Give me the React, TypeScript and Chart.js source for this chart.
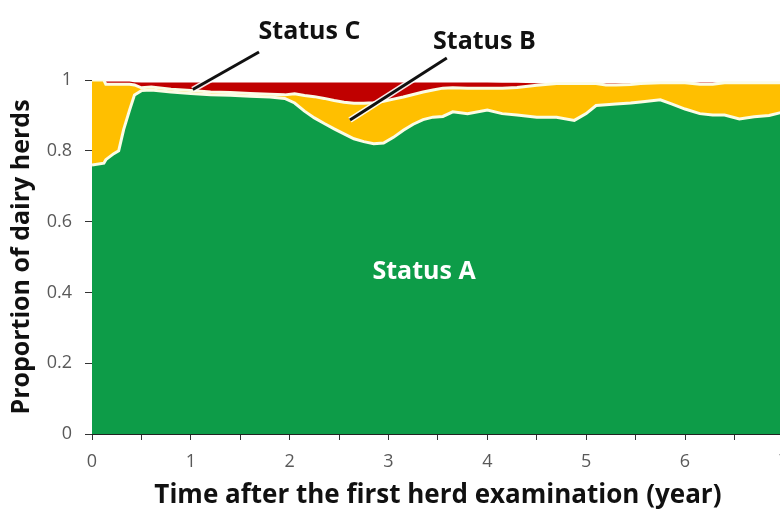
import { useEffect, useRef } from "react";
import { Chart, registerables } from "chart.js";

Chart.register(...registerables);

const FONT = "'Open Sans', 'Noto Sans', Lato, sans-serif";

// Time after first herd examination (year)
const times = [0, 0.12, 0.14, 0.22, 0.27, 0.32, 0.38, 0.43, 0.5, 0.6, 0.8, 1.0, 1.2, 1.4, 1.6, 1.8, 1.95,
  2.05, 2.15, 2.25, 2.35, 2.45, 2.55, 2.65, 2.75, 2.85, 2.95, 3.05, 3.15, 3.25, 3.35, 3.45, 3.55, 3.65,
  3.8, 4.0, 4.15, 4.3, 4.5, 4.7, 4.88, 5.0, 5.1, 5.2, 5.3, 5.45, 5.55, 5.75, 5.87, 6.0, 6.15, 6.28, 6.4,
  6.55, 6.7, 6.85, 7.0];

// Proportion of herds in each status
const statusA = [0.76, 0.765, 0.775, 0.792, 0.8, 0.86, 0.915, 0.958, 0.97, 0.972, 0.966, 0.962, 0.958, 0.957, 0.954, 0.952, 0.948,
  0.935, 0.912, 0.893, 0.877, 0.862, 0.848, 0.834, 0.826, 0.82, 0.822, 0.838, 0.858, 0.875, 0.888, 0.895, 0.897, 0.91,
  0.905, 0.915, 0.905, 0.901, 0.895, 0.895, 0.886, 0.905, 0.928, 0.93, 0.932, 0.935, 0.938, 0.944, 0.932, 0.918, 0.905, 0.901, 0.901,
  0.89, 0.896, 0.9, 0.91];

const statusB = [0.24, 0.235, 0.213, 0.196, 0.188, 0.128, 0.073, 0.028, 0.008, 0.008, 0.008, 0.008, 0.008, 0.008, 0.008, 0.008, 0.01,
  0.026, 0.044, 0.06, 0.071, 0.08, 0.089, 0.1, 0.108, 0.116, 0.118, 0.108, 0.094, 0.084, 0.078, 0.077, 0.08, 0.068,
  0.072, 0.062, 0.072, 0.078, 0.09, 0.095, 0.104, 0.085, 0.062, 0.056, 0.054, 0.052, 0.052, 0.048, 0.06, 0.074, 0.083, 0.087, 0.091,
  0.102, 0.096, 0.092, 0.082];

const statusC = [0, 0, 0.01, 0.01, 0.01, 0.01, 0.01, 0.01, 0.017, 0.015, 0.021, 0.025, 0.029, 0.03, 0.033, 0.035, 0.037,
  0.034, 0.039, 0.042, 0.047, 0.053, 0.058, 0.061, 0.061, 0.059, 0.055, 0.049, 0.043, 0.036, 0.029, 0.023, 0.018, 0.017,
  0.018, 0.018, 0.017, 0.015, 0.008, 0, 0, 0, 0, 0.007, 0.007, 0.005, 0, 0, 0, 0, 0.007, 0.007, 0,
  0, 0, 0, 0];

const seriesNames = ["Status A", "Status B", "Status C"];
const xTickLabels = ["0", "1", "2", "3", "4", "5", "6", "7"];
const yTickLabels = ["0", "0.2", "0.4", "0.6", "0.8", "1"];
const xTitle = "Time after the first herd examination (year)";
const yTitle = "Proportion of dairy herds";

// annotation anchors in data coordinates [year, proportion]
const annotations = {
  A: { text: [3.36, 0.458] },
  B: { text: [3.97, 1.107], from: [3.59, 1.062], to: [2.61, 0.887] },
  C: { text: [2.2, 1.136], from: [1.69, 1.079], to: [1.02, 0.973] },
};

const toPoints = (vals: number[]) => vals.map((v, i) => ({ x: times[i], y: v }));

const statusPlugin = {
  id: "statusLabels",
  afterDraw(chart: any) {
    const { ctx, scales } = chart;
    const xs = scales.x, ys = scales.y;
    const px = (p: number[]) => [xs.getPixelForValue(p[0]), ys.getPixelForValue(p[1])];
    ctx.save();
    for (const key of ["B", "C"] as const) {
      const a: any = (annotations as any)[key];
      const f = px(a.from), t = px(a.to);
      ctx.beginPath();
      ctx.moveTo(f[0], f[1]);
      ctx.lineTo(t[0], t[1]);
      ctx.strokeStyle = "rgba(255,255,255,0.9)";
      ctx.lineWidth = 6;
      ctx.stroke();
      ctx.beginPath();
      ctx.moveTo(f[0], f[1]);
      ctx.lineTo(t[0], t[1]);
      ctx.strokeStyle = "#111";
      ctx.lineWidth = 3;
      ctx.stroke();
    }
    ctx.font = `bold 25px ${FONT}`;
    ctx.textAlign = "center";
    ctx.textBaseline = "middle";
    const la = px(annotations.A.text);
    ctx.fillStyle = "#ffffff";
    ctx.fillText(seriesNames[0], la[0], la[1]);
    ctx.fillStyle = "#111";
    const lb = px(annotations.B.text);
    ctx.fillText(seriesNames[1], lb[0], lb[1]);
    const lc = px(annotations.C.text);
    ctx.fillText(seriesNames[2], lc[0], lc[1]);
    ctx.restore();
  },
};

export default function App() {
  const ref = useRef<HTMLCanvasElement | null>(null);

  useEffect(() => {
    document.body.style.margin = "0";
    document.body.style.overflow = "hidden";
    if (!ref.current) return;
    const border = "#fbfce6";
    const chart = new Chart(ref.current, {
      type: "line",
      data: {
        datasets: [
          { label: seriesNames[0], data: toPoints(statusA), backgroundColor: "#0d9c48", borderColor: border, borderWidth: 3, fill: "origin" },
          { label: seriesNames[1], data: toPoints(statusB), backgroundColor: "#ffbf00", borderColor: border, borderWidth: 3, fill: "-1" },
          { label: seriesNames[2], data: toPoints(statusC), backgroundColor: "#c00000", borderColor: "#ffffff", borderWidth: 1.5, fill: "-1" },
        ],
      },
      options: {
        animation: false,
        responsive: false,
        devicePixelRatio: 1,
        events: [],
        elements: { point: { radius: 0 }, line: { tension: 0 } },
        layout: { padding: { left: 0, top: 80, right: 15, bottom: 0 } },
        plugins: { legend: { display: false }, tooltip: { enabled: false }, title: { display: false } },
        scales: {
          x: {
            type: "linear",
            min: 0,
            max: 7,
            z: 1,
            border: { display: true, color: "#222", width: 1 },
            grid: { display: true, drawOnChartArea: false, drawTicks: true, tickLength: 6, color: "#333" },
            ticks: {
              stepSize: 0.5,
              autoSkip: false,
              maxRotation: 0,
              padding: 11,
              color: "#595959",
              font: { family: FONT, size: 18 },
              callback: (v: any) => (Number.isInteger(v) ? xTickLabels[v] : ""),
            },
            title: {
              display: true,
              text: xTitle,
              color: "#111",
              font: { family: FONT, size: 26, weight: "bold" },
              padding: { top: 0, bottom: 0 },
            },
            afterFit: (s: any) => { s.height = 77; },
          },
          y: {
            stacked: true,
            min: 0,
            max: 1,
            z: 1,
            border: { display: true, color: "#222", width: 1 },
            grid: { display: true, drawOnChartArea: false, drawTicks: true, tickLength: 7, color: "#333" },
            ticks: {
              stepSize: 0.2,
              padding: 13,
              color: "#595959",
              font: { family: FONT, size: 18 },
              callback: (v: any) => yTickLabels[Math.round(v * 5)],
            },
            title: {
              display: true,
              text: yTitle,
              color: "#111",
              font: { family: FONT, size: 25, weight: "bold" },
              padding: { top: 7, bottom: 0 },
            },
            afterFit: (s: any) => { s.width = 92; },
          },
        },
      },
      plugins: [statusPlugin],
    } as any);
    return () => chart.destroy();
  }, []);

  return (
    <div style={{ width: 780, height: 511, overflow: "hidden", position: "relative", background: "#fff" }}>
      <canvas ref={ref} width={800} height={511} style={{ width: 800, height: 511, display: "block" }} />
    </div>
  );
}
